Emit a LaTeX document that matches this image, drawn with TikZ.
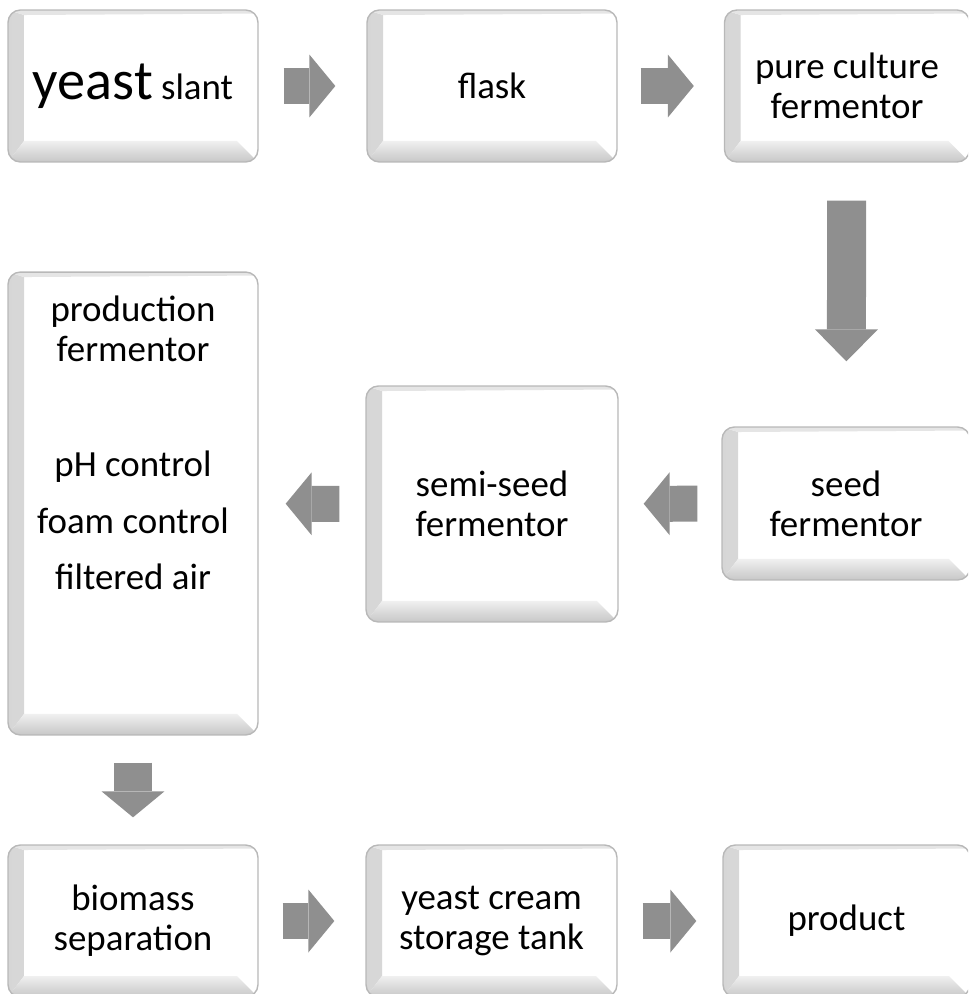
\documentclass[tikz,border=0pt]{standalone}
\usepackage{fontspec}
\setmainfont{Carlito}
\usetikzlibrary{arrows.meta,calc}
\tikzset{
  box/.style={draw=black!28,line width=0.8pt,rounded corners=7pt,fill=white,
    inner sep=0pt,align=center,font=\fontsize{21}{22.7}\selectfont,
    path picture={
      % left bevel
      \shade[sharp corners,left color=black!16,middle color=black!36,right color=black!8]
        (path picture bounding box.north west) -- ++(0.32cm,-0.1cm)
        -- ($(path picture bounding box.south west)+(0.32cm,0.42cm)$)
        -- (path picture bounding box.south west) -- cycle;
      % bottom bevel
      \shade[sharp corners,bottom color=black!22,middle color=black!36,top color=black!6]
        (path picture bounding box.south west) -- ++(0.32cm,0.42cm)
        -- ($(path picture bounding box.south east)+(-0.42cm,0.42cm)$)
        -- (path picture bounding box.south east) -- cycle;
      % top rim
      \fill[sharp corners,black!10]
        (path picture bounding box.north west) -- (path picture bounding box.north east)
        -- ++(0,-0.07cm) -- ($(path picture bounding box.north west)+(0.32cm,-0.1cm)$) -- cycle;
    }},
  wide/.style={minimum width=5cm,minimum height=3.04cm},
  flow/.style={line width=0.72cm,black!44,
    -{Triangle[length=0.52cm,width=1.26cm,line width=0pt]}},
  flowbig/.style={line width=0.78cm,black!44,
    -{Triangle[length=0.64cm,width=1.26cm,line width=0pt]}},
  lbl/.style={inner sep=0pt,align=center,font=\fontsize{21}{22.7}\selectfont},
}
\begin{document}
\begin{tikzpicture}[x=0.02cm,y=-0.02cm]
  \useasboundingbox (0,0) rectangle (968,994);
  \clip (0,0) rectangle (968,994);
  % ---------- top row ----------
  \node[box,wide] (slant) at (133,86) {{\fontsize{32}{34}\selectfont yeast} slant};
  \node[box,wide] (flask) at (492,86) {flask};
  \node[box,wide,minimum width=4.9cm] (pure) at (847,86) {pure culture\\fermentor};
  % ---------- middle row ----------
  \node[box,wide,minimum width=4.96cm,minimum height=3.06cm] (seed) at (846,503.5) {seed\\fermentor};
  \node[box,minimum width=5.04cm,minimum height=4.72cm] (semi) at (492,504) {semi-seed\\fermentor};
  \node[box,minimum width=5cm,minimum height=9.26cm] (prod) at (133,503.5) {};
  \node[lbl,anchor=north] (prodtxt) at ([yshift=-0.48cm]prod.north)
    {production\\fermentor\\[43pt]pH control\\[9.6pt]foam control\\[9pt]filtered air};
  % ---------- bottom row ----------
  \node[box,wide] (bio) at (133,921) {biomass\\separation};
  \node[box,wide,minimum width=5.02cm] (cream) at (491.5,921) {yeast cream\\storage tank};
  \node[box,wide,minimum width=4.94cm] (product) at (846.5,921) {product};
  % ---------- arrows ----------
  \draw[flow,shorten <=0.5cm,shorten >=0.62cm] (slant) -- (flask);
  \draw[flow,shorten <=0.46cm,shorten >=0.6cm] (flask) -- (pure);
  \draw[flowbig,shorten <=0.76cm,shorten >=1.3cm] (pure) -- (seed);
  \draw[flow,shorten <=0.48cm,shorten >=0.5cm] (seed) -- (semi);
  \draw[flow,shorten <=0.52cm,shorten >=0.54cm] (semi) -- (prod);
  \draw[flow,line width=0.76cm,shorten <=0.54cm,shorten >=0.54cm] (prod) -- (bio);
  \draw[flow,shorten <=0.48cm,shorten >=0.62cm] (bio) -- (cream);
  \draw[flow,shorten <=0.5cm,shorten >=0.52cm] (cream) -- (product);
\end{tikzpicture}
\end{document}
